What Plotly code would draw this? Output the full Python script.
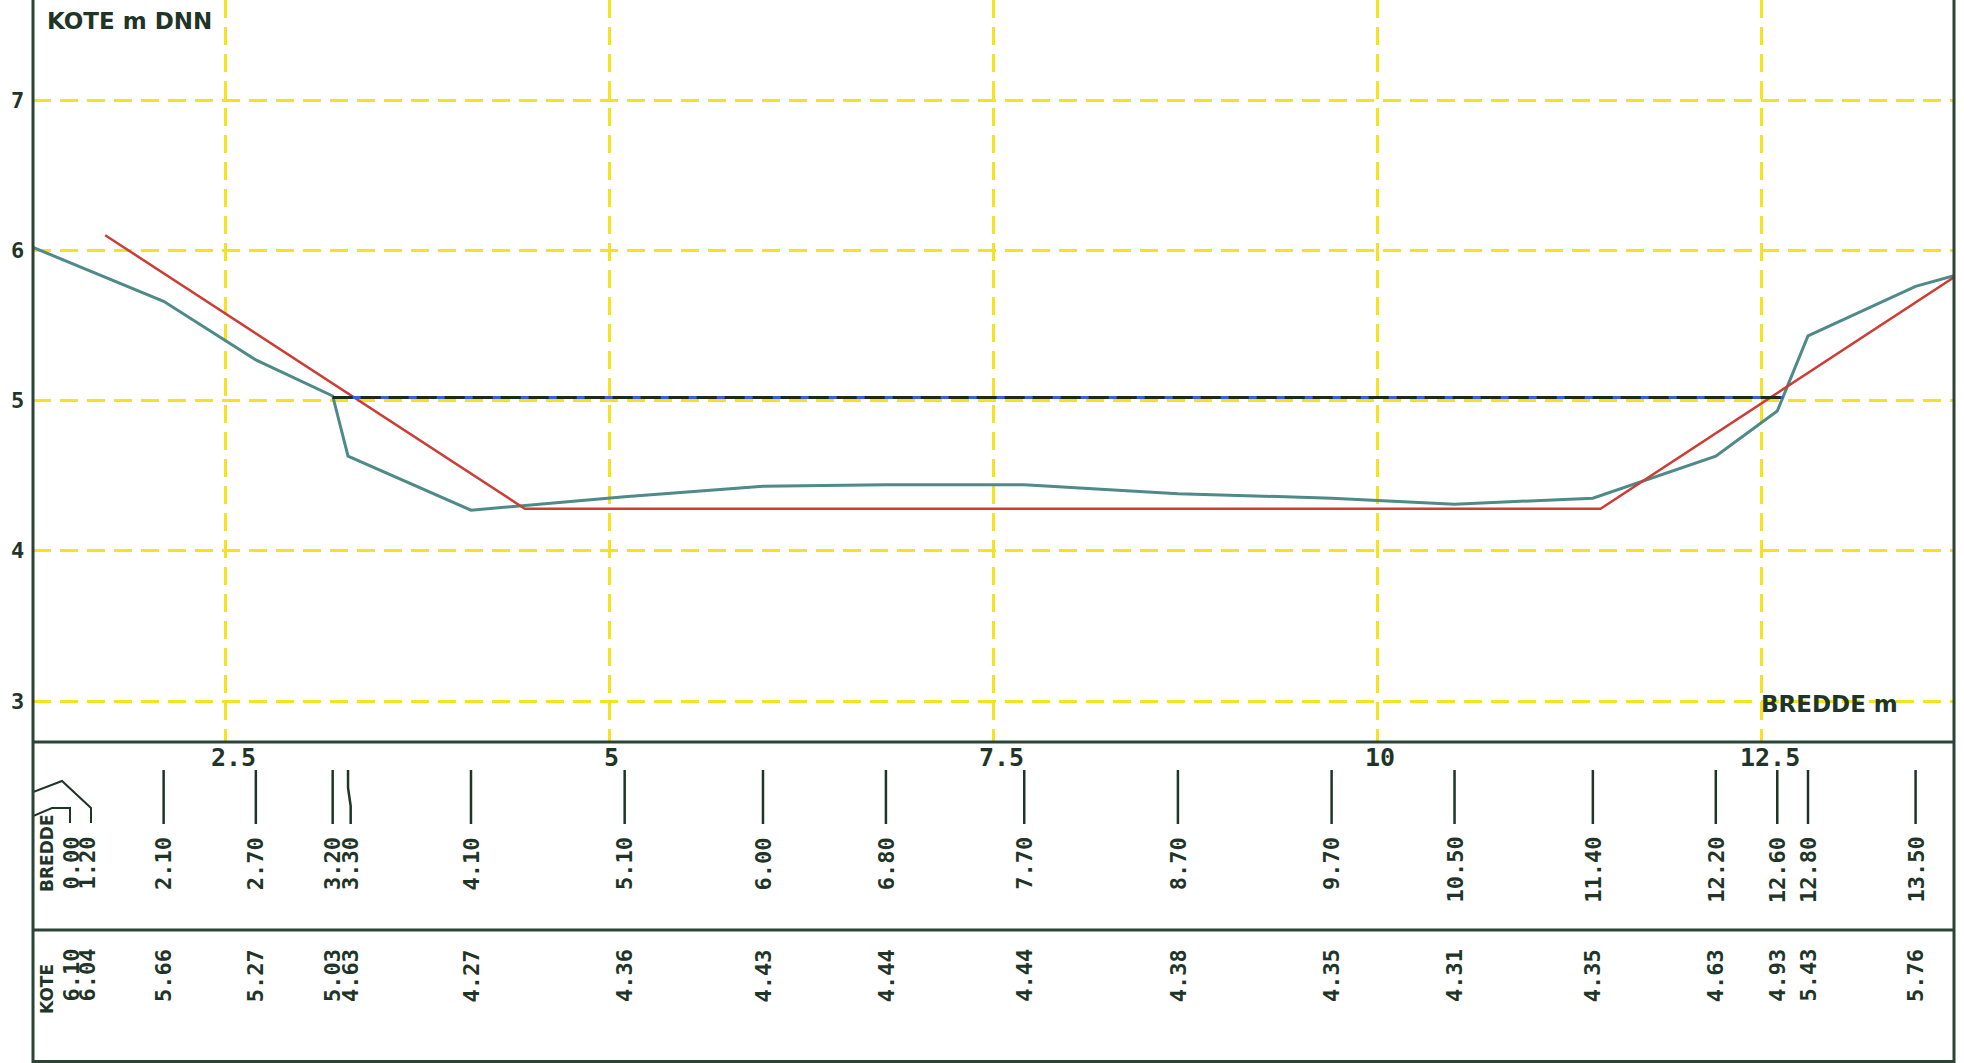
import plotly.graph_objects as go

# ---------------- data ----------------
bredde = [0.00, 1.20, 2.10, 2.70, 3.20, 3.30, 4.10, 5.10, 6.00, 6.80, 7.70,
          8.70, 9.70, 10.50, 11.40, 12.20, 12.60, 12.80, 13.50]
kote = [6.10, 6.04, 5.66, 5.27, 5.03, 4.63, 4.27, 4.36, 4.43, 4.44, 4.44,
        4.38, 4.35, 4.31, 4.35, 4.63, 4.93, 5.43, 5.76]
ground_end_x = [13.75]
ground_end_y = [5.83]
design_x = [1.72, 4.45, 11.45, 13.75]
design_y = [6.10, 4.28, 4.28, 5.82]
water_x = [3.20, 12.64]
water_y = [5.02, 5.02]
x_ticks = [2.5, 5, 7.5, 10, 12.5]
x_tick_labels = ["2.5", "5", "7.5", "10", "12.5"]
y_ticks = [3, 4, 5, 6, 7]
y_tick_labels = ["3", "4", "5", "6", "7"]

# ---------------- layout constants ----------------
W, H = 1964, 1063
L, R = 33, 1954
PLOT_BOTTOM = 742
TABLE_MID = 930
XR = [1.25, 13.75]
YR = [2.7271, 7.6656]

INK = "#1f3528"
AXIS = "#2b4436"
YELLOW = "#f4e31e"
TEAL = "#4d8a88"
RED = "#cc3d35"
FONT = "DejaVu Sans Mono"
TITLE_FONT = "DejaVu Sans"
CHAR = 13.2  # advance of the table font (px)


def px(x):
    return L + (x - XR[0]) / (XR[1] - XR[0]) * (R - L)


def dx(p):
    return XR[0] + (p - L) / (R - L) * (XR[1] - XR[0])


fig = go.Figure()

# ground profile
fig.add_trace(go.Scatter(x=bredde + ground_end_x, y=kote + ground_end_y, mode="lines",
                         line=dict(color=TEAL, width=3), hoverinfo="skip"))
# design profile
fig.add_trace(go.Scatter(x=design_x, y=design_y, mode="lines",
                         line=dict(color=RED, width=2.5), hoverinfo="skip"))
# water level (blue with dark dashes)
fig.add_trace(go.Scatter(x=water_x, y=water_y, mode="lines",
                         line=dict(color="#3b5fd6", width=3), hoverinfo="skip"))
fig.add_trace(go.Scatter(x=water_x, y=water_y, mode="lines",
                         line=dict(color="#1e2a1c", width=3, dash="20px,8px"), hoverinfo="skip"))

# ---------------- table: label positions ----------------
label_px = []
left_slot = 71
prev = None
for b in bredde:
    if b < XR[0]:
        p = left_slot
        left_slot += 16
    else:
        p = px(b)
        if prev is not None and p - prev < 18:
            p = prev + 18
    label_px.append(p)
    prev = p

tick_x, tick_y = [], []
leader_x, leader_y = [], []
n_out = 0
for b, p in zip(bredde, label_px):
    if b < XR[0]:
        if n_out == 0:
            pts = [(L, 816), (52, 808), (p - 1, 808), (p - 1, 823)]
        else:
            pts = [(L, 792), (62, 781), (p + 4, 808), (p + 4, 823)]
        n_out += 1
        for (a, c) in pts:
            leader_x.append(dx(a))
            leader_y.append(c)
        leader_x.append(None)
        leader_y.append(None)
    else:
        top = px(b)
        if abs(p - top) < 0.5:
            pts = [(top, 770), (top, 824)]
        else:
            pts = [(top, 770), (top, 788), (p, 806), (p, 824)]
        for (a, c) in pts:
            tick_x.append(dx(a))
            tick_y.append(c)
        tick_x.append(None)
        tick_y.append(None)

fig.add_trace(go.Scatter(x=tick_x, y=tick_y, xaxis="x2", yaxis="y2", mode="lines",
                         line=dict(color=INK, width=2.5), hoverinfo="skip"))
fig.add_trace(go.Scatter(x=leader_x, y=leader_y, xaxis="x2", yaxis="y2", mode="lines",
                         line=dict(color=INK, width=2), hoverinfo="skip"))

annotations = []
for b, k, p in zip(bredde, kote, label_px):
    tb = f"{b:.2f}"
    tk = f"{k:.2f}"
    annotations.append(dict(x=dx(p), y=837 + CHAR * len(tb) / 2, xref="x2", yref="y2", text=tb,
                            textangle=-90, showarrow=False, xanchor="center", yanchor="middle",
                            font=dict(family=FONT, size=22, color=INK, weight="bold")))
    annotations.append(dict(x=dx(p), y=949 + CHAR * len(tk) / 2, xref="x2", yref="y2", text=tk,
                            textangle=-90, showarrow=False, xanchor="center", yanchor="middle",
                            font=dict(family=FONT, size=22, color=INK, weight="bold")))

annotations.append(dict(x=47 / W, y=1 - 853 / H, xref="paper", yref="paper", text="BREDDE",
                        textangle=-90, showarrow=False, xanchor="center", yanchor="middle",
                        font=dict(family=TITLE_FONT, size=17, color=INK, weight="bold")))
annotations.append(dict(x=47 / W, y=1 - 989 / H, xref="paper", yref="paper", text="KOTE",
                        textangle=-90, showarrow=False, xanchor="center", yanchor="middle",
                        font=dict(family=TITLE_FONT, size=17, color=INK, weight="bold")))

# x tick labels
for v, t in zip(x_ticks, x_tick_labels):
    annotations.append(dict(x=v, y=757, xref="x2", yref="y2", text=t, showarrow=False,
                            xanchor="center", yanchor="middle",
                            xshift=8 if "." in t else 2,
                            font=dict(family=FONT, size=25, color=INK, weight="bold")))
# y tick labels
for v, t in zip(y_ticks, y_tick_labels):
    annotations.append(dict(x=17 / W, y=v, xref="paper", yref="y", text=t, showarrow=False,
                            xanchor="center", yanchor="middle",
                            font=dict(family=FONT, size=22, color=INK, weight="bold")))

annotations.append(dict(x=45 / W, y=1 - 21 / H, xref="paper", yref="paper", text="KOTE m DNN",
                        xanchor="left", yanchor="middle", showarrow=False,
                        font=dict(family=TITLE_FONT, size=23, color=INK, weight="bold")))
annotations.append(dict(x=1829 / W, y=1 - 704 / H, xref="paper", yref="paper", text="BREDDE m",
                        xanchor="center", yanchor="middle", showarrow=False,
                        font=dict(family=TITLE_FONT, size=23, color=INK, weight="bold")))

# frame lines
shapes = []
for xp in (L, R):
    shapes.append(dict(type="line", xref="paper", yref="paper", x0=xp / W, x1=xp / W,
                       y0=0, y1=1, line=dict(color=AXIS, width=3)))
for yp in (PLOT_BOTTOM, TABLE_MID, H - 1.5):
    shapes.append(dict(type="line", xref="paper", yref="paper", x0=L / W, x1=R / W,
                       y0=1 - yp / H, y1=1 - yp / H, line=dict(color=AXIS, width=3)))

fig.update_layout(
    width=W, height=H,
    margin=dict(l=0, r=0, t=0, b=0),
    paper_bgcolor="white", plot_bgcolor="white",
    showlegend=False,
    annotations=annotations,
    shapes=shapes,
    xaxis=dict(domain=[L / W, R / W], range=XR, tickvals=x_ticks, showticklabels=False,
               ticks="", showgrid=True, gridcolor=YELLOW, gridwidth=3, griddash="18px,9px",
               zeroline=False, showline=False, anchor="y"),
    yaxis=dict(domain=[(H - PLOT_BOTTOM) / H, 1], range=YR, tickvals=y_ticks,
               showticklabels=False, ticks="", showgrid=True, gridcolor=YELLOW, gridwidth=3,
               griddash="18px,9px", zeroline=False, showline=False, anchor="x"),
    xaxis2=dict(domain=[L / W, R / W], range=XR, visible=False, showgrid=False,
                zeroline=False, anchor="y2"),
    yaxis2=dict(domain=[0, (H - PLOT_BOTTOM) / H], range=[H, PLOT_BOTTOM], visible=False,
                showgrid=False, zeroline=False, anchor="x2"),
)

fig.write_html("out.html", config={"displayModeBar": False},
               post_script="document.body.style.margin='0px';")
